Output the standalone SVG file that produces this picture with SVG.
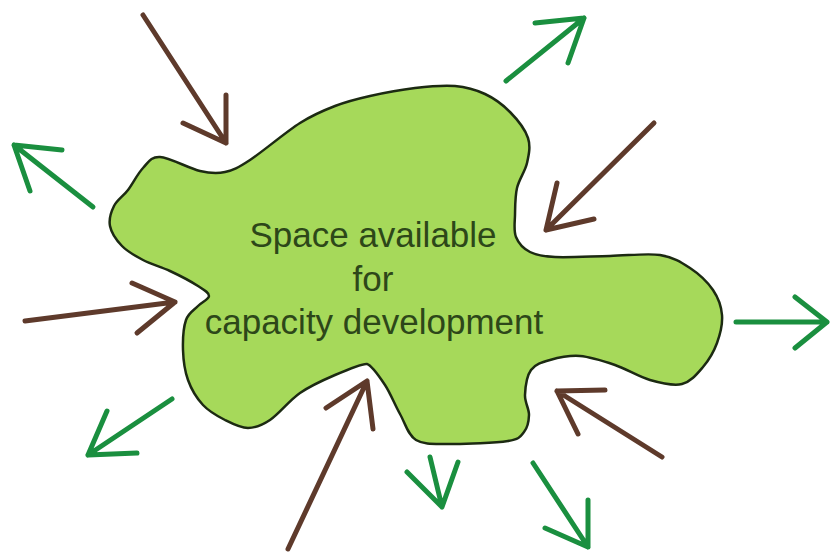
<svg xmlns="http://www.w3.org/2000/svg" width="830" height="553" viewBox="0 0 830 553">
<style>
.blob{fill:#a6d95a;stroke:#1c2a12;stroke-width:2.5;stroke-linejoin:round}
.lbl{font-family:"Liberation Sans",Arial,sans-serif;font-size:35px;fill:#2d4719;text-anchor:middle}
.in{fill:none;stroke:#5e3a2b;stroke-width:5;stroke-linecap:round;stroke-linejoin:round}
.out{fill:none;stroke:#1a8f3f;stroke-width:5;stroke-linecap:round;stroke-linejoin:round}
</style>
<rect width="830" height="553" fill="#ffffff"/>
<g id="space">
<path class="blob" d="M160,157 C169.5,157.5 189.2,168.5 200,171 C210.8,173.5 216.7,173.8 225,172 C233.3,170.2 237.5,168.2 250,160 C262.5,151.8 285.8,132 300,123 C314.2,114 323.3,110.5 335,106 C346.7,101.5 356.7,99 370,96 C383.3,93 400.8,89.7 415,88 C429.2,86.3 443.3,85 455,86 C466.7,87 475.8,89.7 485,94 C494.2,98.3 502.8,104.7 510,112 C517.2,119.3 525.2,129.5 528,138 C530.8,146.5 528.8,154.7 527,163 C525.2,171.3 519,179.3 517,188 C515,196.7 515.2,206.8 515,215 C514.8,223.2 513.5,230.8 516,237 C518.5,243.2 523.5,248.7 530,252 C536.5,255.3 541.7,256.3 555,257 C568.3,257.7 592.5,256.3 610,256 C627.5,255.7 646.7,253 660,255 C673.3,257 681.2,262.2 690,268 C698.8,273.8 707.7,282.2 713,290 C718.3,297.8 721.3,306.2 722,315 C722.7,323.8 720.2,334.3 717,343 C713.8,351.7 708.8,360.2 703,367 C697.2,373.8 690.8,381.8 682,384 C673.2,386.2 661.2,383.2 650,380 C638.8,376.8 626.7,369 615,365 C603.3,361 590.8,356.8 580,356 C569.2,355.2 558.2,357.7 550,360 C541.8,362.3 535.2,364.2 531,370 C526.8,375.8 525.3,387.5 525,395 C524.7,402.5 529.2,408.8 529,415 C528.8,421.2 527.5,427.7 524,432 C520.5,436.3 520.3,439 508,441 C495.7,443 465.3,444.2 450,444 C434.7,443.8 424.3,445 416,440 C407.7,435 405.2,423.2 400,414 C394.8,404.8 390.5,393.3 385,385 C379.5,376.7 371,365 367,364 C363,363 346.2,370.2 335,375 C323.8,379.8 310.8,385.5 300,393 C289.2,400.5 278.7,414.2 270,420 C261.3,425.8 255.5,428 248,428 C240.5,428 232.5,423.8 225,420 C217.5,416.2 209.2,411.7 203,405 C196.8,398.3 191.3,389.2 188,380 C184.7,370.8 183.3,360 183,350 C182.7,340 183.5,327.3 186,320 C188.5,312.7 194.2,310 198,306 C201.8,302 209,299.3 209,296 C209,292.7 204.5,290.2 198,286 C191.5,281.8 179.2,275.3 170,271 C160.8,266.7 151,264.2 143,260 C135,255.8 127.5,251.7 122,246 C116.5,240.3 111.3,232.7 110,226 C108.7,219.3 111,212 114,206 C117,200 123.2,196.3 128,190 C132.8,183.7 137.7,173.5 143,168 C148.3,162.5 150.5,156.5 160,157 Z"/>
<text class="lbl" x="373" y="247">Space available</text>
<text class="lbl" x="373" y="291">for</text>
<text class="lbl" x="374" y="334">capacity development</text>
</g>
<g id="connectors">
<path id="in1" class="in" d="M143,15 L226,143 M183,123 L226,143 L226,95"/>
<path id="out1" class="out" d="M93,207 L14,145 M62,150 L14,145 L30,191"/>
<path id="out2" class="out" d="M506,81 L584,18 M535,23 L584,18 L568,63"/>
<path id="in2" class="in" d="M654,123 L546,230 M557,183 L546,230 L594,219"/>
<path id="in3" class="in" d="M25,321 L175,302 M132,283 L175,302 L137,333"/>
<path id="out3" class="out" d="M172,399 L88,455 M107,411 L88,455 L137,453"/>
<path id="in4" class="in" d="M288,549 L367,381 M326,408 L367,381 L373,429"/>
<path id="in5" class="in" d="M662,457 L557,391 M605,390 L557,391 L578,434"/>
<path id="out4" class="out" d="M430,457 L442,507 M407,472 L442,507 L458,462"/>
<path id="out5" class="out" d="M533,463 L588,547 M588,500 L588,547 L545,528"/>
<path id="out6" class="out" d="M736,322 L827,322 M795,297 L827,322 L795,348"/>
</g>
</svg>
